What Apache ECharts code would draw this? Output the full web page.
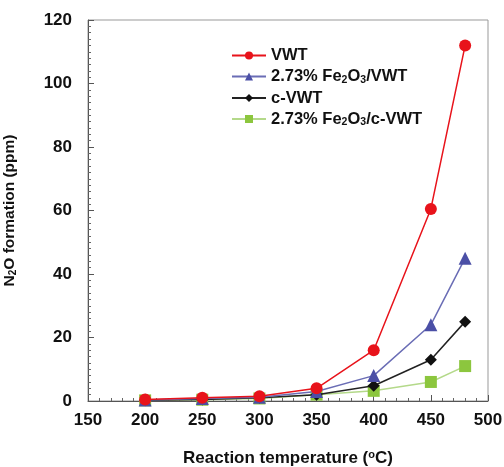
<!DOCTYPE html>
<html><head><meta charset="utf-8">
<script src="https://cdn.jsdelivr.net/npm/echarts@6/dist/echarts.min.js"></script>
<style>html,body{margin:0;padding:0;background:#fff}#c{width:504px;height:467px}</style>
</head><body><div id="c"></div>
<script>
const temps = [200, 250, 300, 350, 400, 450, 480];
const seriesNames = ['VWT', '2.73% Fe2O3/VWT', 'c-VWT', '2.73% Fe2O3/c-VWT'];
const vwt = [0.5, 1.0, 1.5, 4.0, 16.0, 60.5, 112.0];
const feVwt = [0.3, 0.8, 1.2, 3.0, 8.0, 24.0, 45.0];
const cVwt = [0.2, 0.5, 1.0, 2.0, 4.8, 13.0, 25.0];
const feCVwt = [0.2, 0.4, 0.8, 2.0, 3.2, 6.0, 11.0];
const xTicks = [150, 200, 250, 300, 350, 400, 450, 500];
const yTicks = [0, 20, 40, 60, 80, 100, 120];

const FONT = '"Liberation Sans", Arial, sans-serif';
const styles = [
  {sym: 'circle', size: 12, color: '#e8131b', line: '#e8131b'},
  {sym: 'triangle', size: 13, color: '#4b4fa6', line: '#6a6db5'},
  {sym: 'diamond', size: 12, color: '#111111', line: '#222222'},
  {sym: 'rect', size: 12, color: '#8cc63e', line: '#b4d98a'}
];
const dataSets = [vwt, feVwt, cVwt, feCVwt];
const chart = echarts.init(document.getElementById('c'));
const fmt = n => n.replace(/Fe2O3/, 'Fe{s|2}O{s|3}');
chart.setOption({
  animation: false,
  grid: {left: 88, right: 16, top: 20, bottom: 66, containLabel: false, outerBoundsMode: 'none',
    show: true, borderColor: '#999', borderWidth: 1},
  legend: {
    orient: 'vertical', left: 226, top: 42, itemGap: 4, itemWidth: 34, itemHeight: 10,
    data: seriesNames,
    formatter: fmt,
    textStyle: {fontFamily: FONT, fontWeight: 'bold', fontSize: 16.5, color: '#111',
      rich: {s: {fontFamily: FONT, fontWeight: 'bold', fontSize: 10.5, verticalAlign: 'bottom', padding: [7, 0, 0, 0]}}}
  },
  xAxis: {
    type: 'value', min: 150, max: 500, interval: 50,
    name: 'Reaction temperature ({o|o}C)', nameLocation: 'middle', nameGap: 48,
    nameTextStyle: {fontFamily: FONT, fontWeight: 'bold', fontSize: 17, color: '#111',
      rich: {o: {fontFamily: FONT, fontWeight: 'bold', fontSize: 11, verticalAlign: 'top', padding: [0, 0, 7, 0]}}},
    axisLine: {lineStyle: {color: '#555', width: 1}},
    axisTick: {inside: true, length: 6, lineStyle: {color: '#555'}},
    minorTick: {show: true, splitNumber: 5, length: 3, lineStyle: {color: '#666'}},
    splitLine: {show: false},
    axisLabel: {fontFamily: FONT, fontWeight: 'bold', fontSize: 17, color: '#111', margin: 11}
  },
  yAxis: {
    type: 'value', min: 0, max: 120, interval: 20,
    name: 'N{s|2}O formation (ppm)', nameLocation: 'middle', nameGap: 70, nameRotate: 90,
    nameTextStyle: {fontFamily: FONT, fontWeight: 'bold', fontSize: 15.5, color: '#111',
      rich: {s: {fontFamily: FONT, fontWeight: 'bold', fontSize: 10, verticalAlign: 'bottom', padding: [7, 0, 0, 0]}}},
    axisLine: {show: true, lineStyle: {color: '#555', width: 1}},
    axisTick: {show: true, inside: true, length: 6, lineStyle: {color: '#555'}},
    minorTick: {show: true, splitNumber: 10, length: 3, lineStyle: {color: '#666'}},
    splitLine: {show: false},
    axisLabel: {fontFamily: FONT, fontWeight: 'bold', fontSize: 17, color: '#111', margin: 16}
  },
  series: seriesNames.map((n, i) => ({
    name: n, type: 'line',
    data: temps.map((t, j) => [t, dataSets[i][j]]),
    symbol: styles[i].sym, symbolSize: styles[i].size,
    itemStyle: {color: styles[i].color},
    lineStyle: {color: styles[i].line, width: 1.5},
    z: 10 - i
  }))
});
</script></body></html>
